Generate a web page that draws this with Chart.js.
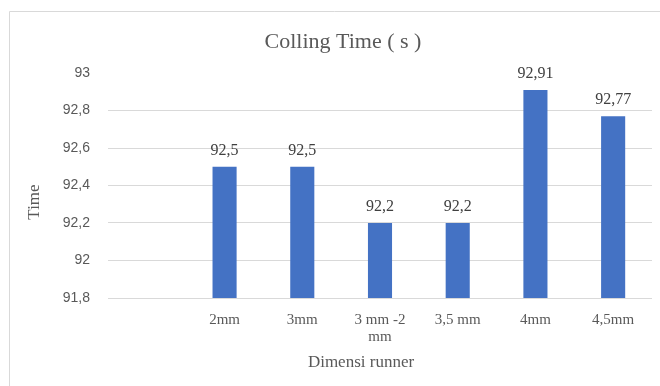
<!DOCTYPE html>
<html>
<head>
<meta charset="utf-8">
<script src="https://cdn.jsdelivr.net/npm/chart.js@4.4.1/dist/chart.umd.min.js"></script>
<style>
  html, body { margin: 0; padding: 0; background: #fff; }
  #wrap { width: 660px; height: 386px; position: relative; }
</style>
</head>
<body>
<div id="wrap"><canvas id="chart"></canvas></div>
<script>
"use strict";
// data
var categories = ["", "2mm", "3mm", ["3 mm -2", "mm"], "3,5 mm", "4mm", "4,5mm"];
var times = [null, 92.5, 92.5, 92.2, 92.2, 92.91, 92.77];
var yMin = 91.8;
var yMax = 93;
var yStep = 0.2;

var SERIF = "'Liberation Serif', 'Times New Roman', serif";
var SANS = "'Liberation Sans', Arial, sans-serif";
var GREY = "#595959";

function comma(v) {
  return String(Math.round(v * 100) / 100).replace(".", ",");
}

// frame, titles and value labels
var decor = {
  id: "decor",
  afterDraw: function (chart) {
    var ctx = chart.ctx;
    ctx.save();
    ctx.strokeStyle = "#d9d9d9";
    ctx.lineWidth = 1;
    ctx.beginPath();
    ctx.moveTo(9.5, 386);
    ctx.lineTo(9.5, 11.5);
    ctx.lineTo(660, 11.5);
    ctx.stroke();

    ctx.fillStyle = GREY;
    ctx.textAlign = "center";
    ctx.textBaseline = "middle";
    ctx.font = "22px " + SERIF;
    ctx.fillText("Colling Time ( s )", 343, 42);

    ctx.font = "17px " + SERIF;
    ctx.fillText("Dimensi runner", 361, 363);

    ctx.save();
    ctx.translate(35, 202);
    ctx.rotate(-Math.PI / 2);
    ctx.fillText("Time", 0, 0);
    ctx.restore();

    ctx.font = "16px " + SERIF;
    ctx.fillStyle = "#404040";
    var meta = chart.getDatasetMeta(0);
    meta.data.forEach(function (bar, i) {
      var v = times[i];
      if (v === null) return;
      ctx.fillText(comma(v), bar.x, bar.y - 16);
    });
    ctx.restore();
  },
};

new Chart(document.getElementById("chart"), {
  type: "bar",
  data: {
    labels: categories,
    datasets: [
      {
        data: times,
        backgroundColor: "#4472c4",
        borderWidth: 0,
        barPercentage: 0.31,
        categoryPercentage: 1,
      },
    ],
  },
  options: {
    responsive: true,
    maintainAspectRatio: false,
    animation: false,
    layout: { padding: { left: 0, right: 8, top: 73, bottom: 0 } },
    plugins: {
      legend: { display: false },
      title: { display: false },
      tooltip: { enabled: false },
    },
    scales: {
      x: {
        grid: { display: false },
        border: { display: false },
        ticks: {
          color: GREY,
          font: { family: SERIF, size: 15, lineHeight: 1.15 },
          padding: 5,
          maxRotation: 0,
          autoSkip: false,
        },
        afterFit: function (scale) {
          scale.height = 88;
        },
      },
      y: {
        min: yMin,
        max: yMax,
        grid: {
          color: function (c) {
            return c.tick && Math.abs(c.tick.value - yMax) < 1e-6 ? "rgba(0,0,0,0)" : "#d9d9d9";
          },
          drawTicks: false,
        },
        border: { display: false },
        ticks: {
          stepSize: yStep,
          color: GREY,
          font: { family: SANS, size: 14 },
          padding: 18,
          callback: function (v) {
            return comma(v);
          },
        },
        afterFit: function (scale) {
          scale.width = 108;
        },
      },
    },
  },
  plugins: [decor],
});
</script>
</body>
</html>
